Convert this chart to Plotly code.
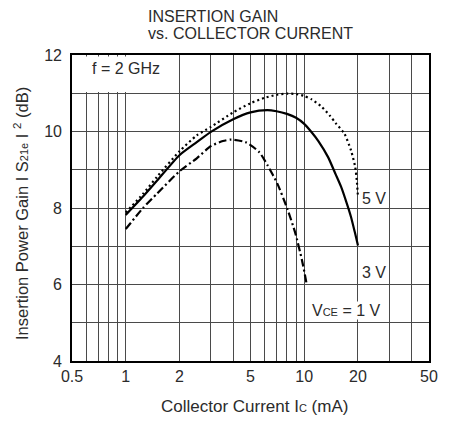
import numpy as np
import plotly.graph_objects as go

# ---- data ----
ic_5v = [1, 1.25, 1.5, 2, 2.5, 3, 4, 5, 6, 7, 8, 9, 10, 11, 12.5, 14, 15, 16.8, 18.3, 19.3, 19.7, 20]
gain_5v = [7.88, 8.37, 8.82, 9.48, 9.9, 10.12, 10.5, 10.74, 10.88, 10.96, 10.99, 10.98, 10.93, 10.84, 10.65, 10.4, 10.22, 9.94, 9.5, 9.07, 8.72, 8.28]

ic_3v = [1, 1.25, 1.5, 2, 2.5, 3, 4, 5, 6.2, 7, 8, 9, 10, 11, 12, 13.6, 15, 16.1, 17.2, 18.3, 19.2, 20]
gain_3v = [7.82, 8.3, 8.72, 9.38, 9.72, 9.99, 10.32, 10.5, 10.56, 10.53, 10.46, 10.36, 10.2, 9.98, 9.75, 9.33, 8.88, 8.55, 8.16, 7.76, 7.37, 7.02]

ic_1v = [1, 1.25, 1.5, 2, 2.5, 3, 3.5, 3.9, 4.7, 5.6, 6.24, 7.08, 8.04, 8.93, 9.72, 10.3]
gain_1v = [7.45, 8.0, 8.38, 8.96, 9.3, 9.62, 9.75, 9.79, 9.72, 9.46, 9.11, 8.63, 7.98, 7.33, 6.63, 6.03]

x_gridvals = [0.5, 0.6, 0.7, 0.8, 0.9, 1, 2, 3, 4, 5, 6, 7, 8, 9, 10, 20, 30, 40, 50]
x_labels = {0.5: "0.5", 1: "1", 2: "2", 5: "5", 10: "10", 20: "20", 50: "50"}
y_gridvals = [4, 5, 6, 7, 8, 9, 10, 11, 12]
y_labels = {4: "4", 6: "6", 8: "8", 10: "10", 12: "12"}

X_RANGE = (0.5, 50)
Y_RANGE = (4, 12)

FONT = "Liberation Sans"
TXT = "#2b2b2b"

def xp(v):
    return (np.log10(v) - np.log10(X_RANGE[0])) / (np.log10(X_RANGE[1]) - np.log10(X_RANGE[0]))

def yp(v):
    return (v - Y_RANGE[0]) / (Y_RANGE[1] - Y_RANGE[0])

fig = go.Figure()
fig.add_trace(go.Scatter(x=ic_5v, y=gain_5v, mode="lines", name="5 V",
                         line=dict(color="black", width=2.2, dash="2px,3px", shape="spline", smoothing=0.6)))
fig.add_trace(go.Scatter(x=ic_3v, y=gain_3v, mode="lines", name="3 V",
                         line=dict(color="black", width=2.2, shape="spline", smoothing=0.6)))
fig.add_trace(go.Scatter(x=ic_1v, y=gain_1v, mode="lines", name="1 V",
                         line=dict(color="black", width=2.2, dash="8px,3px,2px,3px", shape="spline", smoothing=0.6)))

W, H = 450, 422
ML, MR, MT, MB = 72, 14, 55, 61
pw, ph = W - ML - MR, H - MT - MB

def px2paper_x(px):
    return (px - ML) / pw

def px2paper_y(py):
    return (H - MB - py) / ph

annotations = [
    dict(text="INSERTION GAIN", x=px2paper_x(147), y=px2paper_y(16), xref="paper", yref="paper",
         xanchor="left", yanchor="middle", showarrow=False, font=dict(size=16, color=TXT, family=FONT)),
    dict(text="vs. COLLECTOR CURRENT", x=px2paper_x(147), y=px2paper_y(33), xref="paper", yref="paper",
         xanchor="left", yanchor="middle", showarrow=False, font=dict(size=16, color=TXT, family=FONT)),
    dict(text="f = 2 GHz", x=px2paper_x(90), y=yp(11.65), xref="paper", yref="paper",
         xanchor="left", yanchor="middle", showarrow=False, font=dict(size=16, color=TXT, family=FONT)),
    dict(text="5 V", x=px2paper_x(366), y=px2paper_y(198), xref="paper", yref="paper",
         xanchor="left", yanchor="middle", showarrow=False, font=dict(size=16, color=TXT, family=FONT)),
    dict(text="3 V", x=px2paper_x(366), y=px2paper_y(272), xref="paper", yref="paper",
         xanchor="left", yanchor="middle", showarrow=False, font=dict(size=16, color=TXT, family=FONT)),
    dict(text="V<span style='font-size:11px'>CE</span> = 1 V", x=px2paper_x(316), y=px2paper_y(310),
         xref="paper", yref="paper", xanchor="left", yanchor="middle", showarrow=False, bgcolor="white",
         borderpad=0, font=dict(size=16, color=TXT, family=FONT)),
    dict(text="Collector Current I<span style='font-size:11px'>C</span> (mA)", x=px2paper_x(258),
         y=px2paper_y(406), xref="paper", yref="paper", xanchor="center", yanchor="middle", showarrow=False,
         font=dict(size=17, color=TXT, family=FONT)),
    dict(text="Insertion Power Gain I S<span style='font-size:11px'>21e</span> I <sup>2</sup> (dB)",
         x=px2paper_x(20), y=px2paper_y(214), xref="paper", yref="paper", xanchor="center", yanchor="middle",
         textangle=-90, showarrow=False, font=dict(size=16.5, color=TXT, family=FONT)),
]

# white patch behind the "f = 2 GHz" note (top-left grid cell), inset to keep the frame visible
shapes = [
    dict(type="rect", xref="paper", yref="paper", x0=0.004, x1=xp(2) - 0.003, y0=yp(11) + 0.004, y1=0.995,
         fillcolor="white", line=dict(width=0), layer="above"),
]

fig.update_layout(
    width=W, height=H,
    margin=dict(l=ML, r=MR, t=MT, b=MB),
    paper_bgcolor="white", plot_bgcolor="white",
    showlegend=False,
    font=dict(family=FONT, color=TXT, size=16),
    annotations=annotations,
    shapes=shapes,
)
fig.update_xaxes(type="log", range=[np.log10(X_RANGE[0]), np.log10(X_RANGE[1])],
                 tickmode="array", tickvals=x_gridvals,
                 ticktext=[x_labels.get(v, "") for v in x_gridvals],
                 showgrid=True, gridcolor="#4a4a4a", gridwidth=1,
                 showline=True, mirror=True, linecolor="black", linewidth=1.6,
                 ticks="", tickfont=dict(size=16, color=TXT), zeroline=False)
fig.update_yaxes(range=list(Y_RANGE), tickmode="array", tickvals=y_gridvals,
                 ticktext=[y_labels.get(v, "") for v in y_gridvals],
                 showgrid=True, gridcolor="#4a4a4a", gridwidth=1,
                 showline=True, mirror=True, linecolor="black", linewidth=1.6,
                 ticks="", ticklabelstandoff=5, tickfont=dict(size=16, color=TXT), zeroline=False)

fig.write_html("out.html", config=dict(displayModeBar=False),
               post_script="document.body.style.margin='0px';")
